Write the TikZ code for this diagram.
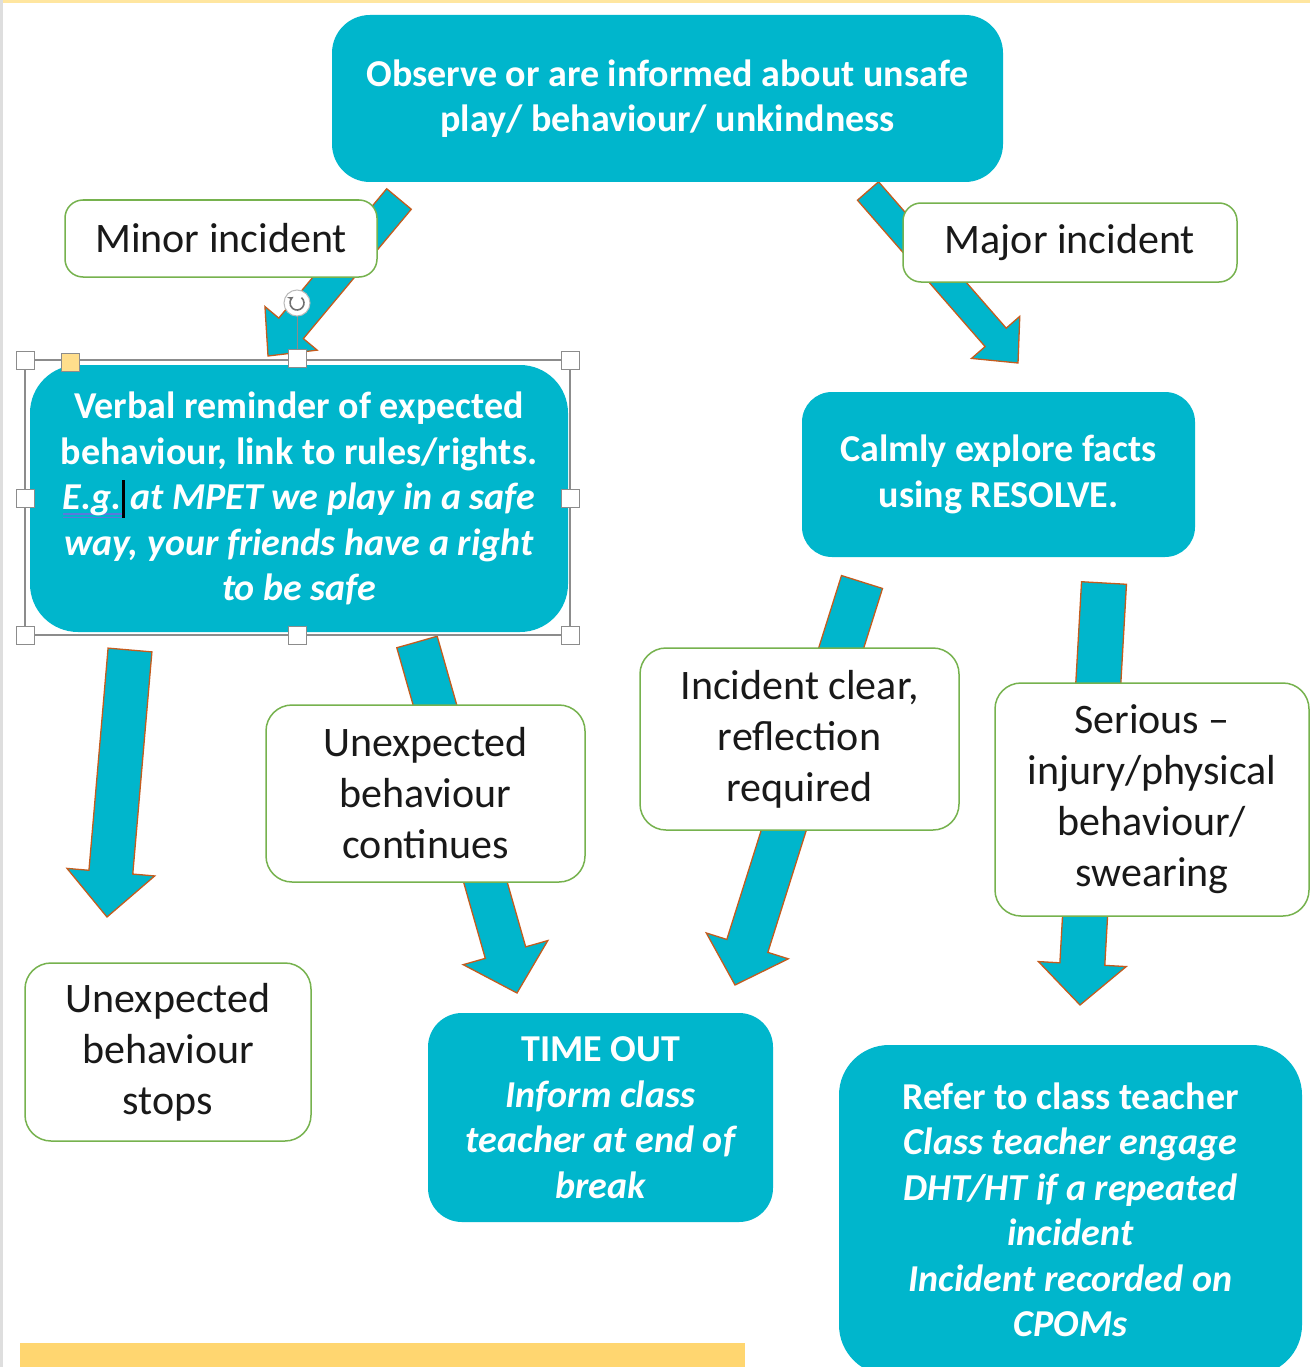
\documentclass[tikz,border=0pt]{standalone}
\usepackage{fontspec}
\setmainfont{Carlito}
\usetikzlibrary{calc}
\definecolor{tealbox}{RGB}{0,182,204}
\definecolor{arrowedge}{RGB}{196,92,30}
\definecolor{gborder}{RGB}{118,178,78}
\definecolor{selgray}{RGB}{140,140,140}
\definecolor{handleyellow}{RGB}{255,222,140}
\definecolor{bary}{RGB}{255,214,112}
\definecolor{topline}{RGB}{255,230,160}
\definecolor{leftline}{RGB}{222,222,222}
\definecolor{spellblue}{RGB}{90,120,220}
\newcommand\blockarr[5]{%
  \coordinate (#1-base) at ($(#2)!#5!(#1)$);
  \filldraw[barrow] ($(#1)!#3!90:(#2)$) -- ($(#1-base)!#3!90:(#2)$) -- ($(#1-base)!#4!90:(#2)$) -- (#2)
    -- ($(#1-base)!#4!-90:(#2)$) -- ($(#1-base)!#3!-90:(#2)$) -- ($(#1)!#3!-90:(#2)$) -- cycle;}
\newsavebox\smbox
\newcommand\spellmark[1]{\sbox\smbox{#1}\leavevmode
  \rlap{\color{spellblue}\rule[-5pt]{\wd\smbox}{1.6pt}}\rlap{\color{spellblue}\rule[-8.5pt]{\wd\smbox}{1.6pt}}\usebox\smbox}
\tikzset{
  barrow/.style={fill=tealbox, draw=arrowedge, line width=1.3pt, line join=miter},
  tbox/.style={fill=tealbox, rounded corners=38pt, text=white, align=center, inner sep=0pt,
    font=\bfseries\fontsize{38}{45.5}\selectfont},
  wbox/.style={fill=white, draw=gborder, line width=1.5pt, rounded corners=26pt, align=center, inner sep=0pt,
    text=black!90, font=\fontsize{42}{51}\selectfont},
  handle/.style={fill=white, draw=selgray, line width=1pt, minimum size=18pt, inner sep=0pt, rectangle},
}
\begin{document}
\begin{tikzpicture}[x=1pt,y=-1pt]
\useasboundingbox (0,0) rectangle (1310,1367);
\fill[white] (0,0) rectangle (1310,1367);
\fill[topline] (0,0) rectangle (1310,3);
\fill[leftline] (0,0) rectangle (3,1367);

% arrow end points
\coordinate (a1t) at (399,199);  \coordinate (a1h) at (268,356);
\coordinate (a2t) at (868,191);  \coordinate (a2h) at (1018,363);
\coordinate (a3t) at (130,650);  \coordinate (a3h) at (107,917);
\coordinate (a4t) at (417,642);  \coordinate (a4h) at (517,993);
\coordinate (a5t) at (862,582);  \coordinate (a5h) at (735,985);
\coordinate (a6t) at (1104,583); \coordinate (a6h) at (1080,1005);

\blockarr{a1t}{a1h}{16pt}{34pt}{36pt}
\blockarr{a2t}{a2h}{14pt}{32pt}{34pt}
\blockarr{a3t}{a3h}{22pt}{44pt}{45pt}
\blockarr{a4t}{a4h}{21pt}{44pt}{42pt}
\blockarr{a5t}{a5h}{21.5pt}{43pt}{41pt}
\blockarr{a6t}{a6h}{22.5pt}{44pt}{41pt}

% teal boxes
\node[tbox, minimum width=671pt, minimum height=167pt] (top) at (667.5,98.5)
  {Observe or are informed about unsafe\\play/ behaviour/ unkindness};
\node[tbox, rounded corners=48pt, minimum width=538pt, minimum height=267pt] (verbal) at (299,498.5)
  {Verbal reminder of expected\\behaviour, link to rules/rights.\\
   \itshape\spellmark{E.g.}\rlap{\color{black}\rule[-8pt]{3.5pt}{38pt}} at MPET we play in a safe\\
   \itshape way, your friends have a right\\ \itshape to be safe};
\node[tbox, rounded corners=30pt, minimum width=393pt, minimum height=165pt] (calm) at (998.5,474.5)
  {Calmly explore facts\\using RESOLVE.};
\node[tbox, rounded corners=34pt, minimum width=345pt, minimum height=209pt] (timeout) at (600.5,1117.5)
  {TIME OUT\\\itshape Inform class\\\itshape teacher at end of\\\itshape break};
\node[tbox, rounded corners=50pt, minimum width=463pt, minimum height=330pt] (refer) at (1070.5,1210)
  {Refer to class teacher\\\itshape Class teacher engage\\\itshape DHT/HT if a repeated\\\itshape incident\\
   \itshape Incident recorded on\\\itshape CPOMs};

% white boxes
\node[wbox, rounded corners=18pt, minimum width=312pt, minimum height=77pt] (minor) at (221,238.5) {Minor incident};
\node[wbox, rounded corners=18pt, minimum width=334pt, minimum height=79pt] (major) at (1070,242.5) {Major incident};
\node[wbox, minimum width=319pt, minimum height=177pt] (cont) at (425.5,793.5) {Unexpected\\behaviour\\continues};
\node[wbox, minimum width=319pt, minimum height=182pt] (clear) at (799.5,739) {Incident clear,\\reflection\\required};
\node[wbox, minimum width=314pt, minimum height=233pt] (serious) at (1152,799.5) {Serious –\\injury/physical\\behaviour/\\swearing};
\node[wbox, minimum width=286pt, minimum height=178pt] (stops) at (168,1052) {Unexpected\\behaviour\\stops};

% selection frame around the verbal box
\draw[selgray, line width=1.2pt] (25,360) rectangle (570,635);
\draw[selgray, line width=1pt] (297,316) -- (297,358);
\node[handle] (h1) at (25,360) {};
\node[handle] (h2) at (297,358) {};
\node[handle] (h3) at (570,360) {};
\node[handle] (h4) at (25,498) {};
\node[handle] (h5) at (570,498) {};
\node[handle] (h6) at (25,635) {};
\node[handle] (h7) at (297,635) {};
\node[handle] (h8) at (570,635) {};
\node[handle, fill=handleyellow] (hy) at (70,362) {};
\node[circle, fill=white, draw=selgray!60, line width=1pt, minimum size=26pt, inner sep=0pt] (rot) at (297,303) {};
\draw[selgray!80!black, line width=1.6pt, -stealth] ([shift={(50:7pt)}]rot.center) arc[start angle=50, end angle=-240, radius=7pt];

% bottom yellow bar
\fill[bary] (20,1343) rectangle (745,1367);
\end{tikzpicture}
\end{document}
